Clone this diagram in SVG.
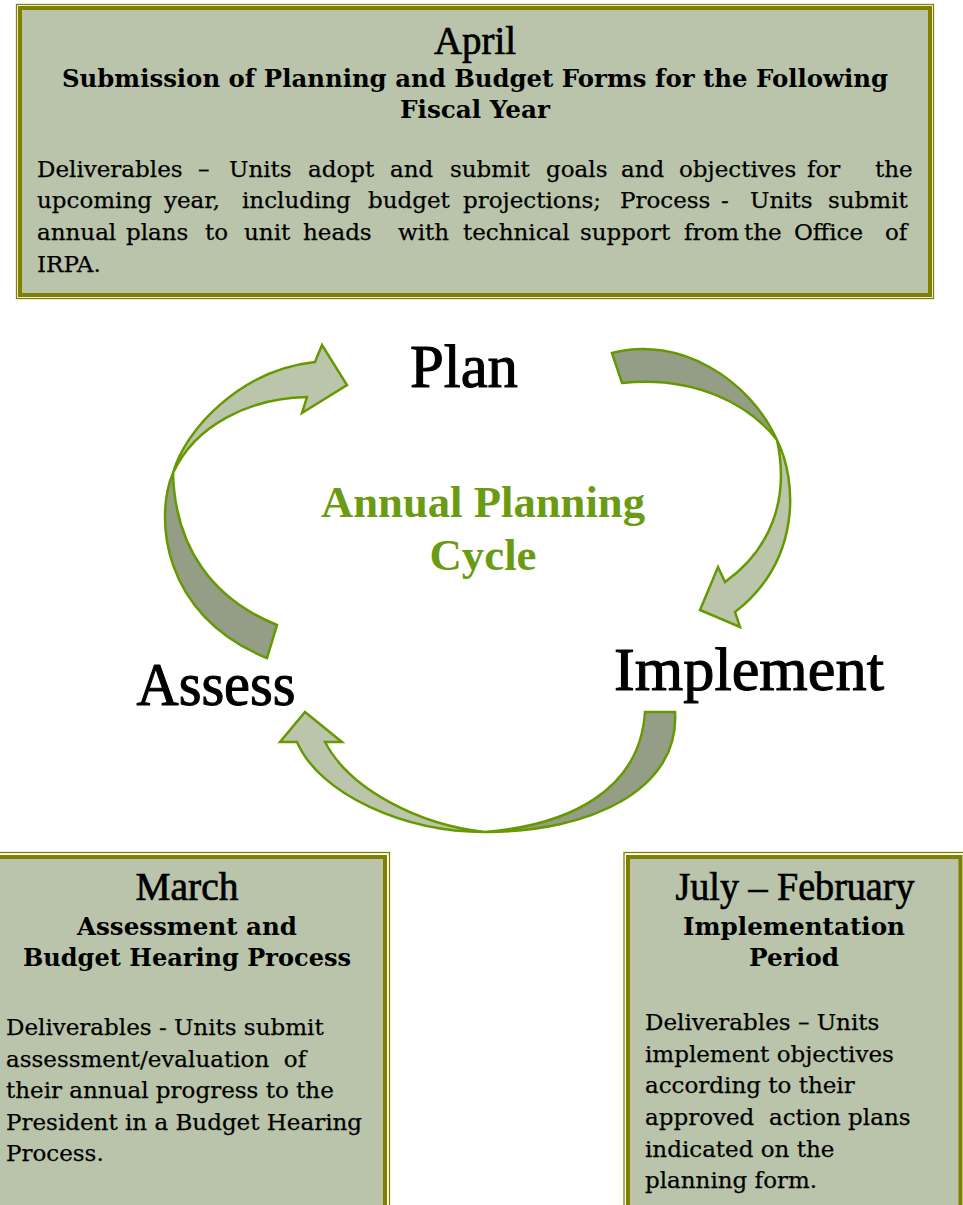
<svg xmlns="http://www.w3.org/2000/svg" width="963" height="1205" viewBox="0 0 963 1205">
  <style>
    .panel { fill: #BAC4AB; stroke: #808000; stroke-width: 4; }
    .rule { fill: none; stroke: #808000; stroke-width: 1.3; }
    .month { font-family: "Liberation Serif", serif; font-size: 39px; fill: #000; stroke: #000; stroke-width: 0.7; text-anchor: middle; }
    .sub { font-family: "DejaVu Serif", serif; font-weight: bold; font-size: 23.5px; fill: #000; text-anchor: middle; }
    .body { font-family: "DejaVu Serif", serif; font-size: 23px; fill: #000; stroke: #000; stroke-width: 0.25; }
    .stage { font-family: "Liberation Serif", serif; font-size: 62px; fill: #000; stroke: #000; stroke-width: 1.1; text-anchor: middle; }
    .title { font-family: "Liberation Serif", serif; font-weight: bold; font-size: 45px; fill: #6B9B12; text-anchor: middle; }
    .face { fill: #BBC5AB; stroke: #669900; stroke-width: 2.5; stroke-linejoin: miter; }
    .back { fill: #949D85; stroke: #669900; stroke-width: 2.5; stroke-linejoin: miter; }
  </style>

  <rect width="963" height="1205" fill="#FFFFFF"/>

  <!-- April: planning and budget submission -->
  <g id="node-april">
    <rect class="rule" x="16.5" y="4.5" width="917" height="294"/>
    <rect class="panel" x="20" y="8" width="910" height="287"/>
    <text class="month" x="475" y="54" textLength="82" lengthAdjust="spacingAndGlyphs">April</text>
    <text class="sub" x="475" y="87" textLength="826" lengthAdjust="spacingAndGlyphs">Submission of Planning and Budget Forms for the Following</text>
    <text class="sub" x="475" y="118" textLength="150" lengthAdjust="spacingAndGlyphs">Fiscal Year</text>
    <text class="body" y="177"><tspan x="37">Deliverables</tspan><tspan x="198">–</tspan><tspan x="229">Units</tspan><tspan x="308">adopt</tspan><tspan x="390">and</tspan><tspan x="450">submit</tspan><tspan x="546">goals</tspan><tspan x="621">and</tspan><tspan x="679">objectives</tspan><tspan x="807">for</tspan><tspan x="875">the</tspan></text>
    <text class="body" y="208"><tspan x="37">upcoming</tspan><tspan x="164">year,</tspan><tspan x="242">including</tspan><tspan x="368">budget</tspan><tspan x="463">projections;</tspan><tspan x="620">Process</tspan><tspan x="721">-</tspan><tspan x="750">Units</tspan><tspan x="828">submit</tspan></text>
    <text class="body" y="240"><tspan x="37">annual</tspan><tspan x="126">plans</tspan><tspan x="205">to</tspan><tspan x="244">unit</tspan><tspan x="303">heads</tspan><tspan x="398">with</tspan><tspan x="463">technical</tspan><tspan x="580">support</tspan><tspan x="684">from</tspan><tspan x="744">the</tspan><tspan x="794">Office</tspan><tspan x="885">of</tspan></text>
    <text class="body" x="37" y="272">IRPA.</text>
  </g>

  <!-- March: assessment and budget hearing -->
  <g id="node-march">
    <rect class="rule" x="-24" y="852.5" width="413.5" height="400"/>
    <rect class="panel" x="-20" y="857" width="405" height="400"/>
    <text class="month" x="187" y="900" textLength="103" lengthAdjust="spacingAndGlyphs">March</text>
    <text class="sub" x="187" y="935" textLength="220" lengthAdjust="spacingAndGlyphs">Assessment and</text>
    <text class="sub" x="187" y="966" textLength="328" lengthAdjust="spacingAndGlyphs">Budget Hearing Process</text>
    <text class="body" x="6" y="1035">Deliverables - Units submit</text>
    <text class="body" x="6" y="1067" xml:space="preserve">assessment/evaluation  of</text>
    <text class="body" x="6" y="1098">their annual progress to the</text>
    <text class="body" x="6" y="1130">President in a Budget Hearing</text>
    <text class="body" x="6" y="1161">Process.</text>
  </g>

  <!-- July to February: implementation period -->
  <g id="node-julyfeb">
    <rect class="rule" x="624" y="852.5" width="345" height="400"/>
    <rect class="panel" x="628" y="857" width="332.5" height="400"/>
    <text class="month" x="795" y="900" textLength="239" lengthAdjust="spacingAndGlyphs">July – February</text>
    <text class="sub" x="794" y="935" textLength="222" lengthAdjust="spacingAndGlyphs">Implementation</text>
    <text class="sub" x="794" y="966" textLength="90" lengthAdjust="spacingAndGlyphs">Period</text>
    <text class="body" x="645" y="1030">Deliverables – Units</text>
    <text class="body" x="645" y="1062">implement objectives</text>
    <text class="body" x="645" y="1093">according to their</text>
    <text class="body" x="645" y="1125" xml:space="preserve">approved  action plans</text>
    <text class="body" x="645" y="1157">indicated on the</text>
    <text class="body" x="645" y="1188">planning form.</text>
  </g>

  <!-- cycle stage labels -->
  <g id="node-plan">
    <text class="stage" x="464" y="387" textLength="108" lengthAdjust="spacingAndGlyphs">Plan</text>
  </g>
  <g id="node-implement">
    <text class="stage" x="749" y="690" textLength="270" lengthAdjust="spacingAndGlyphs">Implement</text>
  </g>
  <g id="node-assess">
    <text class="stage" x="216" y="705" textLength="159" lengthAdjust="spacingAndGlyphs">Assess</text>
  </g>
  <g id="node-title">
    <text class="title" x="483" y="517" textLength="324" lengthAdjust="spacingAndGlyphs">Annual Planning</text>
    <text class="title" x="483" y="570" textLength="107" lengthAdjust="spacingAndGlyphs">Cycle</text>
  </g>

  <!-- curved ribbon arrows between stages -->
  <g id="connectors">
    <!-- Assess to Plan -->
    <g id="arrow-assess-plan">
      <path class="back" d="M173,473 C155,515 160,615 267,658 L277,625 C215,600 175,550 173,473 Z"/>
      <path class="face" d="M173,473 C185,430 240,370 315,362 L322,345 L347,385 L302,413 L307,397 C250,398 195,425 173,473 Z"/>
    </g>
    <!-- Plan to Implement -->
    <g id="arrow-plan-implement">
      <path class="back" d="M612,353 C680,335 750,380 777,440 C750,405 695,375 622,383 Z"/>
      <path class="face" d="M777,440 C797,480 802,560 735,612 L740,627 L700,610 L718,567 L725,582 C770,550 790,500 777,440 Z"/>
    </g>
    <!-- Implement to Assess -->
    <g id="arrow-implement-assess">
      <path class="back" d="M675,712 C680,790 590,832 485,832 C570,825 640,790 645,712 Z"/>
      <path class="face" d="M485,832 C405,832 320,795 297,742 L280,742 L305,712 L342,742 L325,742 C350,790 420,825 485,832 Z"/>
    </g>
  </g>
</svg>
